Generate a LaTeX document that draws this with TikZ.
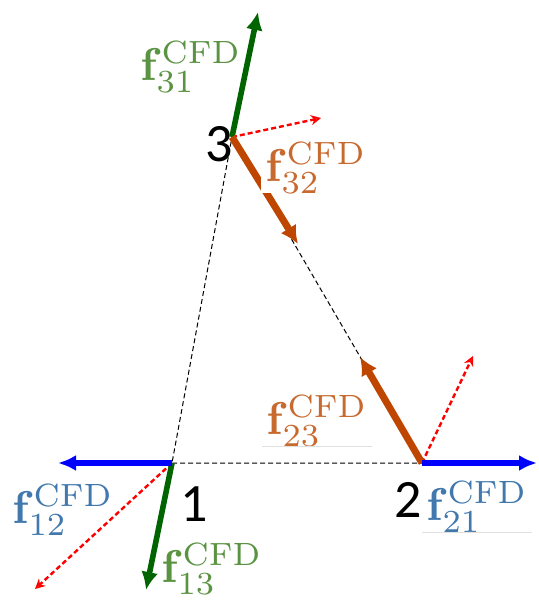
\documentclass[tikz,border=0pt]{standalone}
\usepackage[no-math]{fontspec}
\usetikzlibrary{arrows.meta}
\newfontfamily\numfont{Carlito}
\definecolor{frcGreen}{HTML}{006400}
\definecolor{lblGreen}{HTML}{5A9342}
\definecolor{frcOrange}{HTML}{BE4600}
\definecolor{lblOrange}{HTML}{C86A30}
\definecolor{lblBlue}{HTML}{4179AE}
\newcommand{\fcfd}[1]{\scalebox{2.3}{$\mathbf{f}^{\mathrm{CFD}}_{#1}$}}

\begin{document}
\begin{tikzpicture}[x=0.5pt, y=-0.5pt,
   edge/.style={black, line width=0.5pt, dash pattern=on 2.5pt off 1.5pt},
   green force/.style={frcGreen, line width=2.8pt,
                       -{Latex[length=9pt, width=8.5pt]}},
   orange force/.style={frcOrange, line width=3.5pt,
                        -{Latex[length=9pt, width=9pt]}},
   blue force/.style={blue, line width=3pt,
                      -{Latex[length=9pt, width=8pt]}},
   rel/.style={red, line width=1.2pt, dash pattern=on 2.5pt off 1.5pt,
               -{Stealth[open, length=5pt, width=5pt]}},
   rule/.style={black!12, line width=0.4pt},
   num/.style={inner sep=0pt, font=\numfont\fontsize{27}{30}\selectfont},
   flabel/.style={inner sep=0pt}]
\useasboundingbox (0,0) rectangle (539,606);

% vertices of the triangle
\coordinate (n1) at (172,463);
\coordinate (n2) at (422,463);
\coordinate (n3) at (232,137);

% free ends of the forces
\coordinate (e31) at (258,12);
\coordinate (e32) at (298,244);
\coordinate (e13) at (146,590);
\coordinate (e12) at (58,463);
\coordinate (e23) at (360,357);
\coordinate (e21) at (537,463);
\coordinate (r3) at (321,118);
\coordinate (r1) at (35,589);
\coordinate (r2) at (473,356);

\draw[edge] (n1) -- (n2) -- (n3) -- cycle;

\draw[rel] (n3) -- (r3);
\draw[rel] (n1) -- (r1);
\draw[rel] (n2) -- (r2);

\draw[green force] (n3) -- (e31);
\draw[orange force] (n3) -- (e32);
\draw[green force] (n1) -- (e13);
\draw[blue force] (n1) -- (e12);
\draw[orange force] (n2) -- (e23);
\draw[blue force] (n2) -- (e21);

\node[num] (k1) at (194,504) {1};
\node[num] (k2) at (408,500) {2};
\node[num] (k3) at (219,144) {3};

\node[flabel, text=lblGreen] (l31) at (191,67) {\fcfd{31}};
\node[flabel, text=lblOrange, fill=white, inner xsep=2pt] (l32) at (316,168)
  {\fcfd{32}};
\node[flabel, text=lblOrange] (l23) at (317,421) {\fcfd{23}};
\node[flabel, text=lblBlue] (l12) at (63,510) {\fcfd{12}};
\node[flabel, text=lblBlue] (l21) at (477,507) {\fcfd{21}};
\node[flabel, text=lblGreen] (l13) at (212,569) {\fcfd{13}};

\draw[rule] ([xshift=-2pt]l23.south west) -- ([xshift=2pt]l23.south east);
\draw[rule] ([xshift=-2pt]l21.south west) -- ([xshift=2pt]l21.south east);
\end{tikzpicture}
\end{document}
